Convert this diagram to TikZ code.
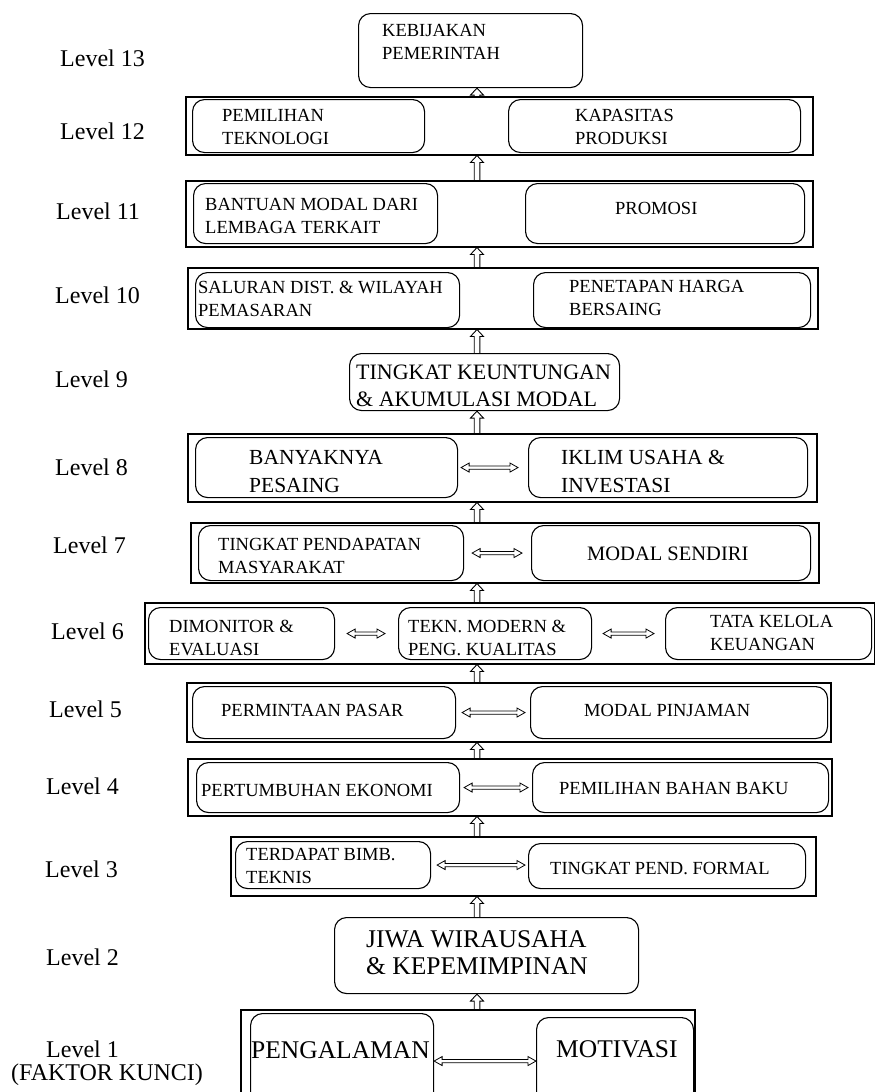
\documentclass[tikz,border=0pt]{standalone}
\usepackage{fontspec}
\setmainfont{Liberation Serif}
\usetikzlibrary{positioning,calc}

\begin{document}
\begin{tikzpicture}[x=1pt, y=-1pt,
    lvl/.style={anchor=base west, inner sep=0pt, font=\fontsize{24}{27}\selectfont},
    levelframe/.style={draw, line width=1.5pt, anchor=north west, inner sep=0pt},
    factor/.style={draw, line width=1.1pt, rounded corners=12pt, anchor=north west, inner sep=0pt},
    ftext/.style={anchor=west, align=left, inner sep=0pt, font=\fontsize{18.5}{23}\selectfont},
    % hollow block arrow pointing up
    uparr/.style={line width=0.9pt, to path={
        let \p1=(\tikztostart), \p2=(\tikztotarget) in
        (\x1-2.8pt,\y1) -- (\x1-2.8pt,\y2-7pt) -- (\x1-6.5pt,\y2-7pt) -- (\x1,\y2)
        -- (\x1+6.5pt,\y2-7pt) -- (\x1+2.8pt,\y2-7pt) -- (\x1+2.8pt,\y1)}},
    % hollow double-headed arrow
    bothway/.style={line width=0.8pt, to path={
        let \p1=(\tikztostart), \p2=(\tikztotarget) in
        (\x1,\y1) -- (\x1+8pt,\y1+4.5pt) -- (\x1+8pt,\y1+1.6pt) -- (\x2-8pt,\y1+1.6pt)
        -- (\x2-8pt,\y1+4.5pt) -- (\x2,\y1) -- (\x2-8pt,\y1-4.5pt) -- (\x2-8pt,\y1-1.6pt)
        -- (\x1+8pt,\y1-1.6pt) -- (\x1+8pt,\y1-4.5pt) -- cycle}}]
\useasboundingbox (0,0) rectangle (875,1092);
\clip (0,0) rectangle (875,1092);
\coordinate (spine) at (477,0);

% Level 13
\node[lvl] (l13) at (60,66) {Level 13};
\node[factor, minimum width=224pt, minimum height=74pt] (b13) at (358,13) {};
\node[ftext] (t13) at (382,42) {KEBIJAKAN\\PEMERINTAH};

% Level 12
\node[lvl] (l12) at (60,139) {Level 12};
\node[levelframe, minimum width=627pt, minimum height=58pt] (f12) at (185,96) {};
\node[factor, minimum width=232pt, minimum height=53pt] (b12a) at (192,99) {};
\node[factor, minimum width=292pt, minimum height=53pt] (b12b) at (508,99) {};
\node[ftext] (t12a) at (222,127) {PEMILIHAN\\TEKNOLOGI};
\node[ftext] (t12b) at (575,127) {KAPASITAS\\PRODUKSI};

% Level 11
\node[lvl] (l11) at (56,219) {Level 11};
\node[levelframe, minimum width=627pt, minimum height=66pt] (f11) at (185,180) {};
\node[factor, minimum width=244pt, minimum height=60pt] (b11a) at (193,183) {};
\node[factor, minimum width=279pt, minimum height=60pt] (b11b) at (525,183) {};
\node[ftext] (t11a) at (205,216) {BANTUAN MODAL DARI\\LEMBAGA TERKAIT};
\node[ftext] (t11b) at (615,208) {PROMOSI};

% Level 10
\node[lvl] (l10) at (55,303) {Level 10};
\node[levelframe, minimum width=630pt, minimum height=61pt] (f10) at (187,267) {};
\node[factor, minimum width=264pt, minimum height=55pt] (b10a) at (195,272) {};
\node[factor, minimum width=277pt, minimum height=55pt] (b10b) at (533,272) {};
\node[ftext] (t10a) at (198,299) {SALURAN DIST. \& WILAYAH\\PEMASARAN};
\node[ftext] (t10b) at (569,298) {PENETAPAN HARGA\\BERSAING};

% Level 9
\node[lvl] (l9) at (55,387) {Level 9};
\node[factor, minimum width=270pt, minimum height=57pt] (b9) at (349,353) {};
\node[ftext, font=\fontsize{22}{27}\selectfont] (t9) at (356,386) {TINGKAT KEUNTUNGAN\\\& AKUMULASI MODAL};

% Level 8
\node[lvl] (l8) at (55,475) {Level 8};
\node[levelframe, minimum width=629pt, minimum height=68pt] (f8) at (187,433) {};
\node[factor, minimum width=262pt, minimum height=60pt] (b8a) at (195,437) {};
\node[factor, minimum width=279pt, minimum height=60pt] (b8b) at (528,437) {};
\node[ftext, font=\fontsize{21.5}{28}\selectfont] (t8a) at (249,472) {BANYAKNYA\\PESAING};
\node[ftext, font=\fontsize{21.5}{28}\selectfont] (t8b) at (561,472) {IKLIM USAHA \&\\INVESTASI};

% Level 7
\node[lvl] (l7) at (53,553) {Level 7};
\node[levelframe, minimum width=628pt, minimum height=60pt] (f7) at (190,522) {};
\node[factor, minimum width=265pt, minimum height=55pt] (b7a) at (198,525) {};
\node[factor, minimum width=279pt, minimum height=55pt] (b7b) at (531,525) {};
\node[ftext] (t7a) at (218,556) {TINGKAT PENDAPATAN\\MASYARAKAT};
\node[ftext, font=\fontsize{20.5}{24}\selectfont] (t7b) at (587,554) {MODAL SENDIRI};

% Level 6
\node[lvl] (l6) at (51,639) {Level 6};
\node[levelframe, minimum width=730pt, minimum height=61pt] (f6) at (144,602) {};
\node[factor, minimum width=186pt, minimum height=52pt] (b6a) at (148,607) {};
\node[factor, minimum width=193pt, minimum height=52pt] (b6b) at (398,607) {};
\node[factor, minimum width=206pt, minimum height=52pt] (b6c) at (665,607) {};
\node[ftext] (t6a) at (169,638) {DIMONITOR \&\\EVALUASI};
\node[ftext] (t6b) at (408,638) {TEKN. MODERN \&\\PENG. KUALITAS};
\node[ftext] (t6c) at (710,633) {TATA KELOLA\\KEUANGAN};

% Level 5
\node[lvl] (l5) at (49,717) {Level 5};
\node[levelframe, minimum width=644pt, minimum height=59pt] (f5) at (186,682) {};
\node[factor, minimum width=263pt, minimum height=52pt] (b5a) at (192,686) {};
\node[factor, minimum width=297pt, minimum height=52pt] (b5b) at (530,686) {};
\node[ftext] (t5a) at (221,710) {PERMINTAAN PASAR};
\node[ftext] (t5b) at (584,710) {MODAL PINJAMAN};

% Level 4
\node[lvl] (l4) at (46,794) {Level 4};
\node[levelframe, minimum width=644pt, minimum height=57pt] (f4) at (187,758) {};
\node[factor, minimum width=263pt, minimum height=50pt] (b4a) at (196,762) {};
\node[factor, minimum width=296pt, minimum height=50pt] (b4b) at (532,762) {};
\node[ftext] (t4a) at (201,790) {PERTUMBUHAN EKONOMI};
\node[ftext] (t4b) at (559,788) {PEMILIHAN BAHAN BAKU};

% Level 3
\node[lvl] (l3) at (45,877) {Level 3};
\node[levelframe, minimum width=585pt, minimum height=59pt] (f3) at (230,836) {};
\node[factor, minimum width=195pt, minimum height=47pt] (b3a) at (235,841) {};
\node[factor, minimum width=277pt, minimum height=45pt] (b3b) at (528,843) {};
\node[ftext] (t3a) at (246,866) {TERDAPAT BIMB.\\TEKNIS};
\node[ftext] (t3b) at (550,868) {TINGKAT PEND. FORMAL};

% Level 2
\node[lvl] (l2) at (46,965) {Level 2};
\node[factor, minimum width=304pt, minimum height=76pt] (b2) at (334,917) {};
\node[ftext, font=\fontsize{25.5}{27}\selectfont] (t2) at (366,953) {JIWA WIRAUSAHA\\\& KEPEMIMPINAN};

% Level 1
\node[lvl] (l1) at (46,1057) {Level 1};
\node[lvl] (l1b) at (11,1080) {(FAKTOR KUNCI)};
\node[levelframe, minimum width=454pt, minimum height=100pt] (f1) at (240,1009) {};
\node[factor, minimum width=183pt, minimum height=95pt] (b1a) at (250,1013) {};
\node[factor, minimum width=157pt, minimum height=90pt] (b1b) at (536,1017) {};
\node[ftext, font=\fontsize{25.5}{28}\selectfont] (t1a) at (251,1050) {PENGALAMAN};
\node[ftext, font=\fontsize{25.5}{28}\selectfont] (t1b) at (556,1049) {MOTIVASI};

% upward links between levels
\draw[uparr] (f12.north -| spine) to (b13.south -| spine);
\draw[uparr] (f11.north -| spine) to (f12.south -| spine);
\draw[uparr] (f10.north -| spine) to (f11.south -| spine);
\draw[uparr] (b9.north -| spine) to (f10.south -| spine);
\draw[uparr] (f8.north -| spine) to (b9.south -| spine);
\draw[uparr] (f7.north -| spine) to (f8.south -| spine);
\draw[uparr] (f6.north -| spine) to (f7.south -| spine);
\draw[uparr] (f5.north -| spine) to (f6.south -| spine);
\draw[uparr] (f4.north -| spine) to (f5.south -| spine);
\draw[uparr] (f3.north -| spine) to (f4.south -| spine);
\draw[uparr] (b2.north -| spine) to (f3.south -| spine);
\draw[uparr] (f1.north -| spine) to (b2.south -| spine);

% two-way links inside levels
\draw[bothway] ($(b8a.east)+(3,0)$) to ($(b8a.east -| b8b.west)+(-10,0)$);
\draw[bothway] ($(b7a.east)+(8,0)$) to ($(b7a.east -| b7b.west)+(-9,0)$);
\draw[bothway] ($(b6a.east)+(12,0)$) to ($(b6a.east -| b6b.west)+(-13,0)$);
\draw[bothway] ($(b6b.east)+(11,0)$) to ($(b6b.east -| b6c.west)+(-11,0)$);
\draw[bothway] ($(b5a.east)+(6,0)$) to ($(b5a.east -| b5b.west)+(-5,0)$);
\draw[bothway] ($(b4a.east)+(4,0)$) to ($(b4a.east -| b4b.west)+(-4,0)$);
\draw[bothway] ($(b3a.east)+(6,0)$) to ($(b3a.east -| b3b.west)+(-3,0)$);
\draw[bothway] (b1a.east) to (b1a.east -| b1b.west);
\end{tikzpicture}
\end{document}
